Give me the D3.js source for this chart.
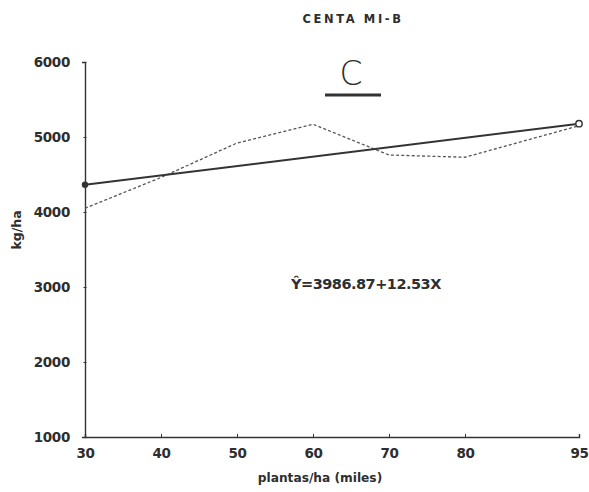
<!DOCTYPE html>
<html>
<head>
<meta charset="utf-8">
<script src="https://cdn.jsdelivr.net/npm/d3@7"></script>
<style>
  html, body { margin: 0; padding: 0; background: #fff; }
  svg { display: block; }
  text { font-family: "DejaVu Sans", sans-serif; fill: #2e2e2e; }
</style>
</head>
<body>
<svg id="chart" width="589" height="492"></svg>
<script>
// ---- data ----
const title = "CENTA  MI-B";
const panel = "C";
const xLabel = "plantas/ha (miles)";
const yLabel = "kg/ha";
const xTicks = [30, 40, 50, 60, 70, 80, 95];
const yTicks = [1000, 2000, 3000, 4000, 5000, 6000];
const density = [30, 40, 50, 60, 70, 80, 95];
const observedYield = [4050, 4460, 4920, 5170, 4760, 4730, 5150];
const regIntercept = 3986.87;
const regSlope = 12.53;
const regRange = [30, 95];
const equation = "=3986.87+12.53X";

// ---- layout ----
const svg = d3.select("#chart");
const x = d3.scaleLinear().domain([30, 95]).range([85, 579]);
const y = d3.scaleLinear().domain([1000, 6000]).range([437, 62]);
const ink = "#333";

// axes
const xAxis = d3.axisBottom(x).tickValues(xTicks).tickSize(-3).tickPadding(11).tickFormat(d3.format("d"));
const gx = svg.append("g").attr("transform", `translate(0,${y(1000)})`).call(xAxis);
gx.select(".domain").attr("stroke", ink).attr("stroke-width", 1.4);
gx.selectAll(".tick line").attr("stroke", ink);
gx.selectAll(".tick text").attr("font-size", 13.5).attr("font-weight", "bold").attr("fill", ink)
  .attr("font-family", "DejaVu Sans").style("letter-spacing", "-0.5px");

const yAxis = d3.axisLeft(y).tickValues(yTicks).tickSize(3).tickPadding(12).tickFormat(d3.format("d"));
const gy = svg.append("g").attr("transform", `translate(${x(30)},0)`).call(yAxis);
gy.select(".domain").attr("stroke", ink).attr("stroke-width", 1.4);
gy.selectAll(".tick line").attr("stroke", ink).attr("transform", "translate(1.5,0)");
gy.selectAll(".tick text").attr("font-size", 13.5).attr("font-weight", "bold").attr("fill", ink)
  .attr("font-family", "DejaVu Sans").style("letter-spacing", "-0.3px");

// observed (dotted)
const line = d3.line().x((d, i) => x(density[i])).y(d => y(d));
svg.append("path").datum(observedYield)
  .attr("d", line)
  .attr("fill", "none")
  .attr("stroke", "#555")
  .attr("stroke-width", 1.3)
  .attr("stroke-dasharray", "3,2.2");

// regression (solid)
const regData = regRange.map(v => ({ x: v, y: regIntercept + regSlope * v }));
svg.append("path").datum(regData)
  .attr("d", d3.line().x(d => x(d.x)).y(d => y(d.y)))
  .attr("fill", "none")
  .attr("stroke", ink)
  .attr("stroke-width", 2);

svg.append("circle").attr("cx", x(regData[0].x)).attr("cy", y(regData[0].y)).attr("r", 3.2).attr("fill", ink);
svg.append("circle").attr("cx", x(regData[1].x)).attr("cy", y(regData[1].y)).attr("r", 3.2)
  .attr("fill", "#fff").attr("stroke", ink).attr("stroke-width", 1.4);

// titles
svg.append("text").attr("x", 353).attr("y", 23).attr("text-anchor", "middle")
  .attr("font-size", 11.5).attr("font-weight", "bold").style("letter-spacing", "2.6px").text(title);
svg.append("text").attr("x", 351).attr("y", 85).attr("text-anchor", "middle")
  .attr("font-size", 33).attr("font-family", "Liberation Sans").style("font-weight", "300").attr("fill", "#3a3a3a").text(panel);
svg.append("line").attr("x1", 325).attr("x2", 381).attr("y1", 95).attr("y2", 95)
  .attr("stroke", ink).attr("stroke-width", 3);

// equation
const eq = svg.append("text").attr("x", 291).attr("y", 289).attr("font-size", 14.5).attr("font-weight", "bold")
  .style("letter-spacing", "-0.5px");
eq.append("tspan").text("Ŷ");
eq.append("tspan").text(equation);

// axis labels
svg.append("text").attr("x", 320).attr("y", 482).attr("text-anchor", "middle")
  .attr("font-size", 12.2).attr("font-weight", "bold").text(xLabel);
svg.append("text").attr("transform", "translate(21,230) rotate(-90)").attr("text-anchor", "middle")
  .attr("font-size", 12.5).attr("font-weight", "bold").text(yLabel);
</script>
</body>
</html>
